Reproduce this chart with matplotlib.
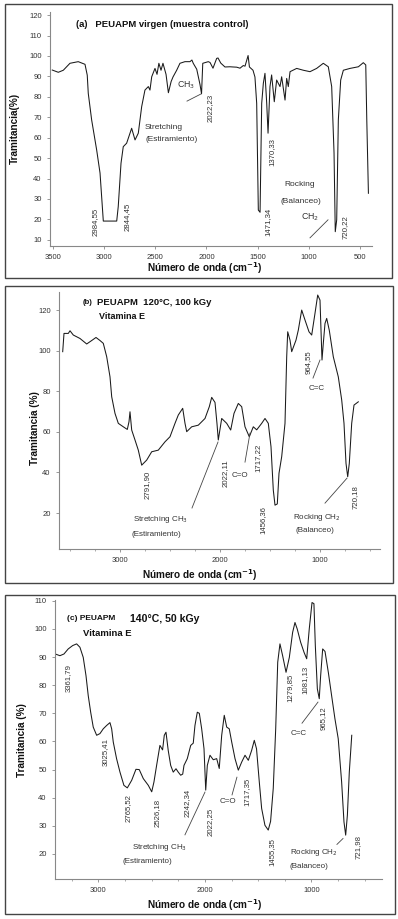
import matplotlib
matplotlib.use("Agg")
import matplotlib.pyplot as plt
from matplotlib.patches import Rectangle
from matplotlib.ticker import MultipleLocator

plt.rcParams['font.family'] = ['Liberation Sans', 'DejaVu Sans']

# (a) PEUAPM virgen
wn_a = [3507, 3448, 3399, 3334, 3253, 3187, 3165, 3155, 3122, 3073, 3040, 3008, 2877, 2862,
        2835, 2813, 2780, 2731, 2698, 2666, 2633, 2601, 2568, 2552, 2535, 2503, 2483, 2465,
        2444, 2425, 2395, 2372, 2345, 2327, 2291, 2259, 2210, 2161, 2142, 2129, 2095, 2063,
        2048, 2036, 1982, 1965, 1936, 1900, 1887, 1860, 1819, 1770, 1741, 1704, 1672, 1640,
        1623, 1593, 1580, 1545, 1526, 1509, 1493, 1476, 1460, 1444, 1428, 1411, 1398, 1379,
        1363, 1337, 1314, 1281, 1265, 1232, 1216, 1200, 1183, 1118, 1053, 988, 923, 858, 809,
        776, 753, 741, 727, 711, 688, 662, 597, 515, 467, 443, 433, 417]
tr_a = [93.1, 92.0, 93.0, 96.4, 97.2, 95.9, 90.6, 81.7, 68.7, 54.0, 42.7, 19.2, 19.2, 26.3,
        47.5, 55.6, 57.3, 64.6, 58.9, 62.2, 75.2, 83.3, 85.0, 83.3, 89.8, 93.9, 91.0, 96.4,
        93.0, 96.4, 91.0, 82.0, 87.5, 89.7, 93.0, 96.4, 97.2, 97.2, 98.0, 96.4, 93.5, 86.0,
        81.5, 96.4, 97.2, 96.8, 94.0, 98.8, 99.0, 96.5, 94.6, 94.7, 94.6, 94.5, 94.0, 95.3,
        95.0, 100.2, 94.6, 93.0, 89.7, 76.8, 24.6, 23.5, 76.8, 86.6, 91.5, 76.8, 62.2, 85.0,
        90.7, 77.6, 88.2, 85.0, 89.8, 78.4, 89.0, 85.0, 92.3, 93.9, 93.0, 92.3, 93.9, 96.4, 94.7,
        85.0, 52.5, 14.0, 19.8, 68.7, 88.2, 93.0, 93.9, 94.7, 96.7, 95.6, 68.7, 32.8]

# (b) 120 C, 100 kGy, vitamina E
wn_b = [3573, 3560, 3517, 3500, 3467, 3400, 3333, 3283, 3240, 3200, 3167, 3133, 3100, 3083,
        3050, 3017, 2967, 2927, 2910, 2900, 2883, 2850, 2817, 2783, 2733, 2683, 2617, 2550,
        2500, 2450, 2417, 2373, 2350, 2333, 2283, 2217, 2150, 2107, 2083, 2050, 2030, 2017,
        1983, 1933, 1893, 1860, 1817, 1783, 1750, 1707, 1667, 1633, 1583, 1550, 1517, 1490,
        1467, 1450, 1427, 1410, 1383, 1350, 1333, 1323, 1300, 1283, 1240, 1217, 1183, 1150,
        1110, 1083, 1050, 1023, 1000, 980, 967, 950, 933, 907, 867, 817, 783, 760, 740, 723,
        707, 683, 660, 617]
tr_b = [99.5, 108.5, 108.5, 109.8, 107.7, 106.0, 103.3, 105.0, 106.5, 105.0, 103.6, 97.0, 87.1,
        77.3, 69.1, 64.2, 62.5, 61.2, 65.0, 69.9, 60.9, 56.0, 51.0, 43.6, 46.1, 50.2, 51.0,
        55.1, 57.6, 64.2, 68.3, 71.6, 64.2, 60.1, 62.5, 63.3, 66.6, 72.4, 77.0, 74.5, 64.0,
        56.0, 66.6, 64.2, 60.9, 69.1, 74.0, 72.4, 62.5, 57.6, 62.5, 61.0, 64.2, 66.6, 64.2,
        52.7, 31.3, 23.9, 24.5, 39.6, 47.8, 64.2, 97.0, 109.3, 105.2, 99.5, 105.2, 110.1,
        120.0, 115.1, 109.3, 107.7, 118.4, 127.4, 124.9, 95.4, 103.6, 113.4, 115.9, 110.0,
        97.0, 87.1, 75.7, 64.2, 44.5, 37.9, 44.5, 64.2, 73.2, 74.8]

# (c) 140 C, 50 kGy, vitamina E
wn_c = [3405, 3362, 3324, 3284, 3242, 3205, 3174, 3143, 3117, 3096, 3073, 3049, 3017, 2986,
        2955, 2923, 2892, 2876, 2861, 2830, 2798, 2761, 2729, 2688, 2648, 2617, 2579, 2532,
        2500, 2479, 2454, 2423, 2398, 2382, 2366, 2345, 2322, 2298, 2272, 2251, 2228, 2209,
        2197, 2166, 2134, 2110, 2094, 2072, 2053, 2031, 2009, 1993, 1978, 1953, 1922, 1890,
        1866, 1843, 1819, 1796, 1772, 1749, 1718, 1687, 1655, 1624, 1593, 1562, 1537, 1516,
        1490, 1468, 1437, 1406, 1384, 1359, 1336, 1317, 1296, 1271, 1239, 1208, 1177, 1155,
        1134, 1102, 1070, 1045, 1021, 995, 977, 964, 945, 927, 914, 895, 873, 842, 811, 780,
        749, 717, 695, 679, 663, 645, 622]
tr_c = [91.1, 90.5, 91.1, 92.9, 94.1, 94.7, 93.5, 89.9, 83.4, 76.3, 70.4, 65.1, 62.2, 62.8,
        64.5, 65.7, 66.7, 64.5, 59.8, 53.9, 49.1, 44.4, 43.5, 46.2, 50.1, 50.0, 46.8, 44.4,
        42.1, 45.6, 51.5, 58.6, 57.0, 62.2, 63.3, 56.8, 51.5, 49.1, 50.3, 49.1, 48.0, 48.4,
        51.5, 53.9, 58.6, 59.4, 65.7, 70.4, 70.0, 64.5, 57.4, 42.7, 51.5, 55.1, 53.5, 53.9,
        50.4, 62.2, 69.3, 65.1, 64.5, 59.8, 53.9, 49.8, 52.7, 55.1, 53.3, 56.8, 60.4, 57.4,
        45.6, 36.2, 30.2, 28.5, 31.6, 43.3, 64.5, 88.2, 94.7, 90.5, 84.6, 89.9, 98.8, 102.3,
        100.0, 95.3, 91.7, 89.4, 100.0, 109.4, 109.0, 94.1, 78.7, 75.2, 83.4, 92.9, 92.0, 84.6,
        76.3, 68.1, 61.0, 45.6, 31.4, 26.7, 33.8, 49.1, 62.2]

W, H = 398, 919
fig = plt.figure(figsize=(W / 100, H / 100), dpi=100)

def box(x0, y0, x1, y1):
    return [x0 / W, 1 - y1 / H, (x1 - x0) / W, (y1 - y0) / H]

# panel frames
for x0, y0, x1, y1 in [(5, 4, 392, 278), (5, 286, 393, 583), (5, 595, 395, 914)]:
    fig.add_artist(Rectangle((x0 / W, 1 - y1 / H), (x1 - x0) / W, (y1 - y0) / H,
                             transform=fig.transFigure, fill=False, ec='#444', lw=1.0))

TC = '#333333'
LC = '#1a1a1a'

def style(ax):
    for s in ['top', 'right']:
        ax.spines[s].set_visible(False)
    for s in ['left', 'bottom']:
        ax.spines[s].set_color('#888888')
        ax.spines[s].set_linewidth(0.8)
    ax.tick_params(labelsize=5.5, colors='#888888', labelcolor=TC, length=2.5, width=0.6)
    ax.tick_params(which='minor', length=1.5, width=0.5, colors='#888888')
    ax.patch.set_alpha(0)

def num(ax, x, y, s, size=5.6):
    ax.text(x, y, s, rotation=90, ha='center', va='center', fontsize=size, color=TC)

def lab(ax, x, y, s, size=6.0, ha='left'):
    ax.text(x, y, s, ha=ha, va='center', fontsize=size, color=TC)

def seg(ax, x0, y0, x1, y1):
    ax.plot([x0, x1], [y0, y1], color='#444444', lw=0.6)

# ---------- (a)
ax = fig.add_axes(box(50, 12, 372, 246))
ax.plot(wn_a, tr_a, color=LC, lw=0.75)
ax.set_xlim(3529, 382)
ax.set_ylim(7, 121.5)
ax.set_xticks([3500, 3000, 2500, 2000, 1500, 1000, 500])
ax.set_yticks(range(10, 121, 10))
style(ax)
ax.text(3275, 115.6, '(a)   PEUAPM virgen (muestra control)', fontsize=6.8, fontweight='bold',
        va='center', color='#111')
lab(ax, 2288, 85.8, 'CH$_3$', 6.3)
seg(ax, 2190, 77.9, 2053, 81.4)
num(ax, 1965, 74.5, '2022,23')
lab(ax, 2601, 65.2, 'Stretching', 6.0)
lab(ax, 2591, 58.9, '(Estiramiento)', 6.0)
num(ax, 1359, 53, '1370,33')
num(ax, 1398, 18.8, '1471,34')
lab(ax, 1086, 36.9, 'Rocking', 6.0, 'center')
lab(ax, 1076, 28.6, '(Balanceo)', 6.0, 'center')
lab(ax, 988, 21.2, 'CH$_2$', 6.3, 'center')
seg(ax, 988, 11.0, 812, 19.8)
num(ax, 646, 16.3, '720,22')
num(ax, 3089, 18.8, '2984,55')
num(ax, 2777, 21.2, '2844,45')
fig.text(205 / W, 1 - 268 / H, 'Número de onda (cm$^{\\mathbf{-1}}$)', ha='center', va='center',
         fontsize=7.2, fontweight='bold', color='#111')
fig.text(15 / W, 1 - 128 / H, 'Tramitancia(%)', rotation=90, ha='center', va='center',
         fontsize=7.2, fontweight='bold', color='#111')

# ---------- (b)
ax = fig.add_axes(box(59, 292, 380, 549))
ax.plot(wn_b, tr_b, color=LC, lw=0.75)
ax.set_xlim(3610, 400)
ax.set_ylim(2.3, 128.9)
ax.set_xticks([3000, 2000, 1000])
ax.xaxis.set_minor_locator(MultipleLocator(250))
ax.set_yticks(range(20, 121, 20))
style(ax)
ax.text(3370, 123.9, '(b)', fontsize=5.5, fontweight='bold', va='center', color='#111')
ax.text(3230, 123.9, 'PEUAPM  120°C, 100 kGy', fontsize=6.8, fontweight='bold', va='center',
        color='#111')
ax.text(3207, 116.6, 'Vitamina E', fontsize=6.5, fontweight='bold', va='center', color='#111')
num(ax, 2730, 33.8, '2791,90')
lab(ax, 2870, 16.6, 'Stretching CH$_3$', 5.8)
lab(ax, 2890, 9.2, '(Estiramiento)', 5.8)
seg(ax, 2280, 22.5, 2020, 55)
num(ax, 1950, 39.7, '2022,11')
lab(ax, 1800, 38.7, 'C=O', 5.8, 'center')
seg(ax, 1750, 45.1, 1700, 59.4)
num(ax, 1620, 47.1, '1717,22')
num(ax, 1570, 16.6, '1456,36')
num(ax, 1120, 94.4, '964,55')
lab(ax, 1030, 81.6, 'C=C', 5.8, 'center')
seg(ax, 1070, 86.5, 1000, 95.4)
lab(ax, 1270, 18, 'Rocking CH$_2$', 5.8)
lab(ax, 1240, 11.6, '(Balanceo)', 5.8)
seg(ax, 950, 24.9, 730, 37.2)
num(ax, 650, 27.9, '720,18')
fig.text(200 / W, 1 - 575 / H, 'Número de onda (cm$^{\\mathbf{-1}}$)', ha='center', va='center',
         fontsize=7.2, fontweight='bold', color='#111')
fig.text(35 / W, 1 - 428 / H, 'Tramitancia (%)', rotation=90, ha='center', va='center',
         fontsize=7.2, fontweight='bold', color='#111')

# ---------- (c)
ax = fig.add_axes(box(55, 600, 382, 879))
ax.plot(wn_c, tr_c, color=LC, lw=0.75)
ax.set_xlim(3408, 338)
ax.set_ylim(11.1, 110.3)
ax.set_xticks([3000, 2000, 1000])
ax.xaxis.set_minor_locator(MultipleLocator(250))
ax.set_yticks(range(20, 111, 10))
style(ax)
ax.text(3296, 103.7, '(c) PEUAPM', fontsize=6.0, fontweight='bold', va='center', color='#111')
ax.text(2704, 103.7, '140°C, 50 kGy', fontsize=7.6, fontweight='bold', va='center', color='#111')
ax.text(3146, 98.3, 'Vitamina E', fontsize=6.8, fontweight='bold', va='center', color='#111')
num(ax, 3286, 82.7, '3361,79')
num(ax, 2939, 56.1, '3025,41')
num(ax, 2723, 36.3, '2765,52')
num(ax, 2451, 34.5, '2526,18')
num(ax, 2169, 38, '2242,34')
num(ax, 1953, 31.3, '2022,25')
lab(ax, 2685, 22.2, 'Stretching CH$_3$', 5.8)
lab(ax, 2770, 17.2, '(Estiramiento)', 5.8)
seg(ax, 2188, 26.8, 2000, 42)
lab(ax, 1784, 38.7, 'C=O', 5.8, 'center')
seg(ax, 1746, 41, 1700, 47.3)
num(ax, 1606, 42, '1717,35')
num(ax, 1371, 20.7, '1455,35')
num(ax, 1202, 79.2, '1279,85')
num(ax, 1061, 81.7, '1081,13')
lab(ax, 1117, 63, 'C=C', 5.8, 'center')
seg(ax, 1089, 66.5, 939, 74)
num(ax, 892, 68.2, '965,12')
lab(ax, 1202, 20.4, 'Rocking CH$_2$', 5.8)
lab(ax, 1202, 15.4, '(Balanceo)', 5.8)
seg(ax, 761, 23.4, 704, 25.5)
num(ax, 563, 22.5, '721,98')
fig.text(205 / W, 1 - 905 / H, 'Número de onda (cm$^{\\mathbf{-1}}$)', ha='center', va='center',
         fontsize=7.2, fontweight='bold', color='#111')
fig.text(22 / W, 1 - 740 / H, 'Tramitancia (%)', rotation=90, ha='center', va='center',
         fontsize=7.2, fontweight='bold', color='#111')

fig.savefig('out.png', dpi=100)
